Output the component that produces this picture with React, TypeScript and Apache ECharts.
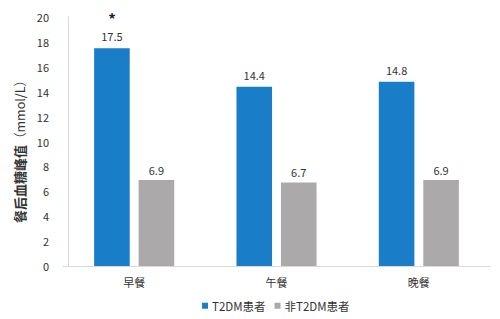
import React, { useEffect, useRef } from "react";
import * as echarts from "echarts";

const categories = ["早餐", "午餐", "晚餐"];
const t2dm = [17.5, 14.4, 14.8];
const nonT2dm = [6.9, 6.7, 6.9];
const yTicks = [0, 2, 4, 6, 8, 10, 12, 14, 16, 18, 20];
const seriesNames = ["T2DM患者", "非T2DM患者"];
const significant = [true, false, false];

export default function App() {
  const ref = useRef<HTMLDivElement>(null);
  useEffect(() => {
    if (!ref.current) return;
    const chart = echarts.init(ref.current, undefined, { renderer: "svg" });
    const font = "'Noto Sans CJK SC', 'Noto Sans', sans-serif";
    chart.setOption({
      animation: false,
      textStyle: { fontFamily: font },
      grid: { left: 63, right: 10, top: 17, bottom: 53 },
      legend: {
        top: 295,
        left: 197,
        itemWidth: 6,
        itemHeight: 6,
        itemGap: 9,
        icon: "rect",
        textStyle: { fontSize: 11.5, color: "#333", fontFamily: font, padding: [0, 0, 0, -1] },
        data: seriesNames,
      },
      xAxis: {
        type: "category",
        data: categories,
        axisLine: { lineStyle: { color: "#d9d9d9" } },
        axisTick: { show: false },
        axisLabel: { fontSize: 11, color: "#333", margin: 10 },
      },
      yAxis: {
        type: "value",
        min: yTicks[0],
        max: yTicks[yTicks.length - 1],
        interval: 2,
        offset: -5,
        name: "{b|餐后血糖峰值}{n|（mmol/L）}",
        nameLocation: "middle",
        nameGap: 34,
        nameTextStyle: {
          color: "#333",
          padding: [0, 14, 0, 0],
          rich: {
            b: { fontSize: 13, fontWeight: "bold", color: "#333", fontFamily: font },
            n: { fontSize: 12.5, color: "#333", fontFamily: font },
          },
        },
        axisLine: { show: true, lineStyle: { color: "#d9d9d9" } },
        axisTick: { show: false },
        splitLine: { show: false },
        axisLabel: { fontSize: 11, color: "#333", margin: 19 },
      },
      series: [
        {
          name: seriesNames[0],
          type: "bar",
          data: t2dm,
          barWidth: "25%",
          barGap: "25%",
          itemStyle: { color: "#1a7dc8" },
          label: {
            show: true,
            position: "top",
            distance: 5,
            fontSize: 11,
            color: "#333",
            formatter: (p: any) =>
              significant[p.dataIndex] ? `{star|*}\n{v|${p.value}}` : `{v|${p.value}}`,
            rich: {
              star: { fontSize: 15, fontWeight: "bold", color: "#222", lineHeight: 22 },
              v: { fontSize: 11, color: "#333", lineHeight: 14 },
            },
          },
        },
        {
          name: seriesNames[1],
          type: "bar",
          data: nonT2dm,
          barWidth: "25%",
          itemStyle: { color: "#aba9a9" },
          label: {
            show: true,
            position: "top",
            distance: 5,
            fontSize: 11,
            color: "#333",
          },
        },
      ],
    });
    return () => chart.dispose();
  }, []);
  return (
    <div
      ref={ref}
      style={{ position: "fixed", left: 0, top: 0, width: 500, height: 319, background: "#fff" }}
    />
  );
}
